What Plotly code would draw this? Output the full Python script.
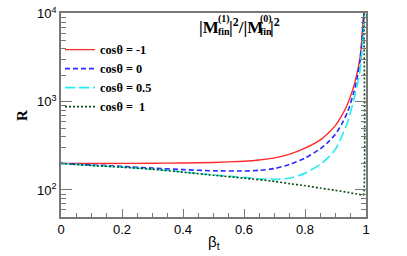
import plotly.graph_objects as go

# ---- data ----
beta_m1 = [0, 0.1, 0.2, 0.3, 0.4, 0.5, 0.6, 0.65, 0.7, 0.75, 0.8, 0.85, 0.88,
           0.9, 0.92, 0.94, 0.96, 0.97, 0.98, 0.985, 0.99, 0.993]
r_m1 = [200, 200, 200, 201, 202, 205, 212, 219, 231, 255, 298, 370, 455,
        540, 690, 950, 1500, 2050, 3100, 4500, 7800, 10000]
beta_0 = [0, 0.1, 0.2, 0.3, 0.4, 0.5, 0.6, 0.65, 0.7, 0.75, 0.8, 0.85, 0.88,
          0.9, 0.92, 0.94, 0.96, 0.97, 0.98, 0.985, 0.99, 0.994]
r_0 = [200, 192, 185, 177, 170, 165, 164, 167, 175, 195, 230, 292, 360,
       430, 555, 770, 1280, 1780, 2850, 4100, 6900, 10000]
beta_05 = [0, 0.1, 0.2, 0.3, 0.4, 0.5, 0.6, 0.65, 0.7, 0.75, 0.8, 0.85, 0.88,
           0.9, 0.92, 0.94, 0.96, 0.97, 0.98, 0.985, 0.99, 0.996]
r_05 = [200, 190, 181, 172, 160, 148, 139, 134, 132, 136, 155, 195, 240,
        290, 400, 590, 1050, 1480, 2200, 3200, 5000, 10000]
beta_1 = [0, 0.1, 0.2, 0.3, 0.4, 0.5, 0.6, 0.7, 0.75, 0.8, 0.85, 0.9, 0.94,
          0.97, 0.99, 0.992, 0.993]
r_1 = [200, 190, 181, 172, 159, 147, 136, 125, 118, 112, 105, 99, 94,
       90, 88, 88, 10000]
labels = ["cosθ = -1", "cosθ = 0", "cosθ = 0.5", "cosθ =  1"]
x_ticks = [0, 0.2, 0.4, 0.6, 0.8, 1]
x_tick_text = ["0", "0.2", "0.4", "0.6", "0.8", "1"]
y_major = [100, 1000, 10000]
y_major_text = ["10<sup>2</sup>", "10<sup>3</sup>", "10<sup>4</sup>"]
y_minor = [v * m for v in [10, 100, 1000] for m in range(2, 10)]

W, H = 407, 256
L, R, T, B = 61, 41, 5, 39
pw, ph = W - L - R, H - T - B


def px(x):
    return (x - L) / pw


def py(y):
    return (H - B - y) / ph


fig = go.Figure()
styles = [
    dict(color="#ff2a2a", dash="solid", width=1.4),
    dict(color="#2a2aff", dash="5px,3px", width=1.6),
    dict(color="#22eeee", dash="10px,4px", width=1.6),
    dict(color="#0d4a12", dash="2px,2px", width=1.6),
]
series = [(beta_m1, r_m1), (beta_0, r_0), (beta_05, r_05), (beta_1, r_1)]
for (xs, ys), st, lab in zip(series, styles, labels):
    fig.add_trace(go.Scatter(x=xs, y=ys, mode="lines", name="<b>%s</b>" % lab,
                             line=dict(shape="spline", smoothing=0.6, **st)))

axis_col = "#777777"
fig.update_xaxes(range=[0, 1], showgrid=False, zeroline=False,
                 showline=True, linecolor=axis_col, linewidth=1.5, mirror=True,
                 ticks="inside", ticklen=8, tickcolor=axis_col,
                 tickvals=x_ticks, ticktext=x_tick_text,
                 minor=dict(ticks="inside", ticklen=4, dtick=0.05,
                            tickcolor=axis_col, showgrid=False),
                 tickfont=dict(family="Liberation Sans", size=13, color="black"))
fig.update_yaxes(type="log", range=[1.694, 4.005], showgrid=False, zeroline=False,
                 showline=True, linecolor=axis_col, linewidth=1.5, mirror="allticks",
                 ticks="inside", ticklen=11, tickcolor=axis_col,
                 tickvals=y_major, ticktext=y_major_text,
                 ticklabeloverflow="allow",
                 minor=dict(ticks="inside", ticklen=5, tickvals=y_minor,
                            tickcolor=axis_col, showgrid=False),
                 tickfont=dict(family="Liberation Sans", size=13, color="black"))

ann = []
tf = "Liberation Serif"
ann.append(dict(text="<b>R</b>", x=px(22), y=py(112), textangle=-90,
                xanchor="center", yanchor="middle",
                font=dict(family=tf, size=15, color="black")))
ann.append(dict(text="β<sub>t</sub>", x=px(214), y=py(244),
                xanchor="center", yanchor="middle",
                font=dict(family="Liberation Sans", size=15, color="black")))
title_parts = [
    ("<b>|M</b>", 198, 20, 17),
    ("<b>(1)</b>", 217, 11, 10),
    ("<b>fin</b>", 217, 24, 10),
    ("<b>|<sup>2</sup>/|M</b>", 228, 18, 17),
    ("<b>(0)</b>", 259, 11, 10),
    ("<b>fin</b>", 259, 24, 10),
    ("<b>|<sup>2</sup></b>", 269, 18, 17),
]
for t, x, y, s in title_parts:
    ann.append(dict(text=t, x=px(x), y=py(y), xanchor="left", yanchor="middle",
                    font=dict(family=tf, size=s, color="black")))
for a in ann:
    a.update(xref="paper", yref="paper", showarrow=False, borderpad=0)

fig.update_layout(
    width=W, height=H, margin=dict(l=L, r=R, t=T, b=B),
    plot_bgcolor="white", paper_bgcolor="white",
    annotations=ann,
    legend=dict(x=px(60), y=py(28), xanchor="left", yanchor="top",
                bgcolor="rgba(0,0,0,0)", itemwidth=30,
                font=dict(family=tf, size=12.3, color="black")),
)
fig.write_html("out.html", config={"displayModeBar": False},
               post_script="document.body.style.margin='0px';")
